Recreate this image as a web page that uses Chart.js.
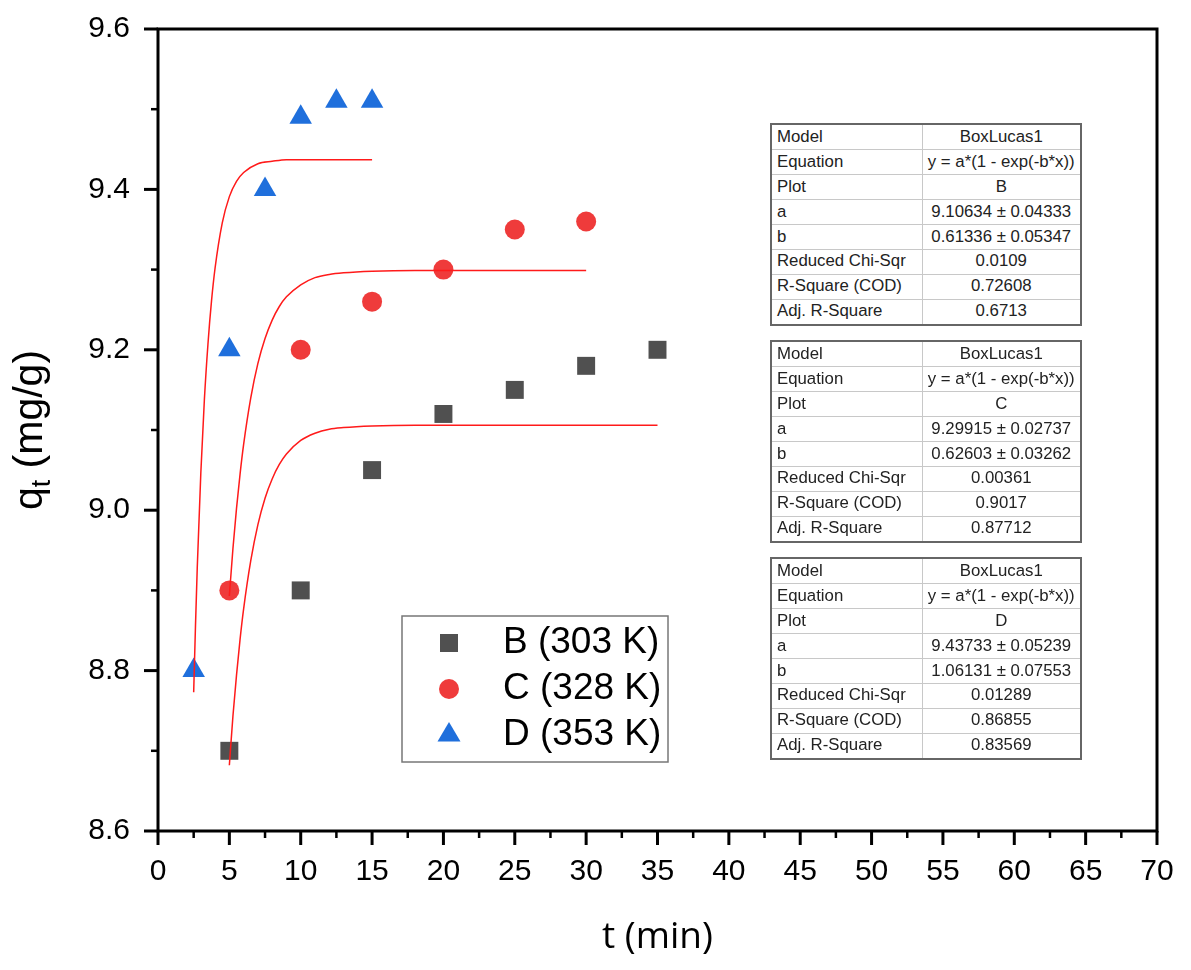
<!DOCTYPE html>
<html>
<head>
<meta charset="utf-8">
<script src="https://cdn.jsdelivr.net/npm/chart.js@4.4.1/dist/chart.umd.min.js"></script>
<style>
  body { margin: 0; background: #fff; }
  #wrap { position: relative; width: 1191px; height: 970px; }
  #chart { position: absolute; left: 0; top: 0; }
  .fit {
    position: absolute; left: 770px; width: 312px; height: 203px;
    border-collapse: collapse; table-layout: fixed; background: #fff;
    border: 2px solid #666;
    font-family: 'Liberation Sans', Arial, sans-serif; font-size: 16.8px; color: #222;
  }
  .fit td { border: 1px solid #c8c8c8; padding: 0 5px; line-height: 1; white-space: nowrap; }
  .fit td.v { text-align: center; padding: 0 2px; }
</style>
</head>
<body>
<div id="wrap">
  <canvas id="chart" width="1191" height="970"></canvas>
</div>
<script>
// === Data ===
const seriesNames = ['B (303 K)', 'C (328 K)', 'D (353 K)'];

const tB = [5, 10, 15, 20, 25, 30, 35];
const qB = [8.70, 8.90, 9.05, 9.12, 9.15, 9.18, 9.20];
const tC = [5, 10, 15, 20, 25, 30];
const qC = [8.90, 9.20, 9.26, 9.30, 9.35, 9.36];
const tD = [2.5, 5, 7.5, 10, 12.5, 15];
const qD = [8.80, 9.20, 9.40, 9.49, 9.51, 9.51];

// fitted curves (red lines)
const fitTB = [5, 5.25, 5.5, 5.75, 6, 6.5, 7, 7.5, 8, 8.5, 9, 10, 11, 12, 13, 15, 18, 22, 35];
const fitQB = [8.682, 8.743, 8.794, 8.839, 8.877, 8.937, 8.982, 9.015, 9.039, 9.057, 9.070,
               9.087, 9.096, 9.101, 9.103, 9.105, 9.106, 9.106, 9.106];
const fitTC = [5, 5.25, 5.5, 5.75, 6, 6.5, 7, 7.5, 8, 8.5, 9, 10, 11, 12, 13, 15, 18, 22, 30];
const fitQC = [8.893, 8.952, 9.002, 9.045, 9.082, 9.140, 9.183, 9.214, 9.237, 9.254, 9.266,
               9.281, 9.290, 9.294, 9.296, 9.298, 9.299, 9.299, 9.299];
const fitTD = [2.5, 2.625, 2.75, 3, 3.25, 3.5, 3.75, 4, 4.5, 5, 5.5, 6, 7, 8, 9, 10, 12, 15];
const fitQD = [8.773, 8.855, 8.928, 9.046, 9.138, 9.207, 9.261, 9.302, 9.358, 9.391, 9.410,
               9.421, 9.432, 9.435, 9.437, 9.437, 9.437, 9.437];

const xTicks = [0, 5, 10, 15, 20, 25, 30, 35, 40, 45, 50, 55, 60, 65, 70];
const yTicks = [8.6, 8.8, 9.0, 9.2, 9.4, 9.6];

// fit result tables
const fitRowNames = ['Model', 'Equation', 'Plot', 'a', 'b', 'Reduced Chi-Sqr', 'R-Square (COD)', 'Adj. R-Square'];
const fitB = ['BoxLucas1', 'y = a*(1 - exp(-b*x))', 'B', '9.10634 ± 0.04333', '0.61336 ± 0.05347', '0.0109', '0.72608', '0.6713'];
const fitC = ['BoxLucas1', 'y = a*(1 - exp(-b*x))', 'C', '9.29915 ± 0.02737', '0.62603 ± 0.03262', '0.00361', '0.9017', '0.87712'];
const fitD = ['BoxLucas1', 'y = a*(1 - exp(-b*x))', 'D', '9.43733 ± 0.05239', '1.06131 ± 0.07553', '0.01289', '0.86855', '0.83569'];

// === Styles ===
const colB = '#505050';
const colC = '#ef3b3b';
const colD = '#1f6fdc';
const fitColor = '#ff1a1a';
const axisFont = "'Liberation Sans', Arial, sans-serif";

const pts = (xs, ys) => xs.map((x, i) => ({ x, y: ys[i] }));

const fitLine = (xs, ys) => ({
  data: pts(xs, ys),
  showLine: true,
  borderColor: fitColor,
  borderWidth: 1.5,
  pointRadius: 0,
  cubicInterpolationMode: 'monotone',
  order: 0,
});

// tables
[[fitB, 123], [fitC, 340], [fitD, 557]].forEach(([vals, top]) => {
  const t = document.createElement('table');
  t.className = 'fit';
  t.style.top = top + 'px';
  t.innerHTML = '<colgroup><col style="width:151px"><col></colgroup>' +
    fitRowNames.map((n, i) => `<tr><td>${n}</td><td class="v">${vals[i]}</td></tr>`).join('');
  document.getElementById('wrap').appendChild(t);
});

function drawMarker(ctx, style, x, y, color) {
  ctx.fillStyle = color;
  ctx.beginPath();
  if (style === 'rect') {
    ctx.rect(x - 9, y - 9, 18, 18);
  } else if (style === 'circle') {
    ctx.arc(x, y, 10, 0, Math.PI * 2);
  } else {
    ctx.moveTo(x, y - 13);
    ctx.lineTo(x + 11.5, y + 6.5);
    ctx.lineTo(x - 11.5, y + 6.5);
    ctx.closePath();
  }
  ctx.fill();
}

// frame, outward major/minor ticks, y title, legend box
const decorations = {
  id: 'decorations',
  afterDatasetsDraw(chart) {
    const { ctx, chartArea: a, scales: { x, y } } = chart;
    ctx.save();
    ctx.strokeStyle = '#000';
    ctx.lineCap = 'butt';

    // ticks
    xTicks.forEach((v, i) => {
      const px = x.getPixelForValue(v);
      ctx.lineWidth = 3;
      ctx.beginPath(); ctx.moveTo(px, a.bottom); ctx.lineTo(px, a.bottom + 14); ctx.stroke();
      if (i < xTicks.length - 1) {
        const mx = x.getPixelForValue((v + xTicks[i + 1]) / 2);
        ctx.lineWidth = 2.5;
        ctx.beginPath(); ctx.moveTo(mx, a.bottom); ctx.lineTo(mx, a.bottom + 7); ctx.stroke();
      }
    });
    yTicks.forEach((v, i) => {
      const py = y.getPixelForValue(v);
      ctx.lineWidth = 3;
      ctx.beginPath(); ctx.moveTo(a.left - 14, py); ctx.lineTo(a.left, py); ctx.stroke();
      if (i < yTicks.length - 1) {
        const my = y.getPixelForValue((v + yTicks[i + 1]) / 2);
        ctx.lineWidth = 2.5;
        ctx.beginPath(); ctx.moveTo(a.left - 7, my); ctx.lineTo(a.left, my); ctx.stroke();
      }
    });

    // frame
    ctx.lineWidth = 3;
    ctx.strokeRect(a.left, a.top, a.right - a.left, a.bottom - a.top);

    // y title: q_t (mg/g)
    ctx.save();
    ctx.translate(42, (a.top + a.bottom) / 2);
    ctx.rotate(-Math.PI / 2);
    ctx.fillStyle = '#000';
    ctx.textBaseline = 'alphabetic';
    ctx.font = `41px ${axisFont}`;
    const wq = ctx.measureText('q').width;
    ctx.font = `27px ${axisFont}`;
    const wt = ctx.measureText('t').width;
    ctx.font = `41px ${axisFont}`;
    const wr = ctx.measureText(' (mg/g)').width;
    let sx = -(wq + wt + wr) / 2;
    ctx.fillText('q', sx, 0);
    sx += wq;
    ctx.font = `27px ${axisFont}`;
    ctx.fillText('t', sx, 8);
    sx += wt;
    ctx.font = `41px ${axisFont}`;
    ctx.fillText(' (mg/g)', sx, 0);
    ctx.restore();

    // legend
    ctx.fillStyle = '#fff';
    ctx.fillRect(402, 616, 266, 146);
    ctx.strokeStyle = '#777';
    ctx.lineWidth = 1.5;
    ctx.strokeRect(402, 616, 266, 146);
    const styles = ['rect', 'circle', 'triangle'];
    const cols = [colB, colC, colD];
    const rowsY = [643, 689, 735];
    ctx.font = `37px ${axisFont}`;
    ctx.textBaseline = 'middle';
    seriesNames.forEach((name, i) => {
      drawMarker(ctx, styles[i], 449, rowsY[i], cols[i]);
      ctx.fillStyle = '#000';
      ctx.fillText(name, 503, rowsY[i]);
    });
    ctx.restore();
  }
};

new Chart(document.getElementById('chart'), {
  type: 'scatter',
  data: {
    datasets: [
      fitLine(fitTB, fitQB),
      fitLine(fitTC, fitQC),
      fitLine(fitTD, fitQD),
      { label: seriesNames[0], data: pts(tB, qB), pointStyle: 'rect', pointRadius: 12.7,
        backgroundColor: colB, borderWidth: 0, order: 1 },
      { label: seriesNames[1], data: pts(tC, qC), pointStyle: 'circle', pointRadius: 10,
        backgroundColor: colC, borderWidth: 0, order: 1 },
      { label: seriesNames[2], data: pts(tD, qD), pointStyle: 'triangle', pointRadius: 13,
        backgroundColor: colD, borderWidth: 0, order: 1 },
    ]
  },
  options: {
    responsive: false,
    animation: false,
    layout: { padding: { left: 0, top: 29, right: 34, bottom: 0 } },
    plugins: { legend: { display: false }, tooltip: { enabled: false } },
    scales: {
      x: {
        type: 'linear',
        min: 0, max: 70,
        afterFit: s => { s.height = 139; s.paddingLeft = 0; s.paddingRight = 0; },
        afterBuildTicks: s => { s.ticks = xTicks.map(v => ({ value: v })); },
        grid: { display: false, drawTicks: false },
        border: { display: false },
        ticks: { color: '#000', padding: 23, font: { family: axisFont, size: 30 } },
        title: {
          display: true, text: 't (min)', color: '#000',
          font: { family: "'Open Sans', sans-serif", size: 37 },
          padding: { top: 0, bottom: 10 }
        }
      },
      y: {
        type: 'linear',
        min: 8.6, max: 9.6,
        afterFit: s => { s.width = 158; s.paddingTop = 0; s.paddingBottom = 0; },
        afterBuildTicks: s => { s.ticks = yTicks.map(v => ({ value: v })); },
        grid: { display: false, drawTicks: false },
        border: { display: false },
        ticks: {
          color: '#000', padding: 28, font: { family: axisFont, size: 30 },
          callback: v => v.toFixed(1)
        }
      }
    }
  },
  plugins: [decorations]
});
</script>
</body>
</html>
